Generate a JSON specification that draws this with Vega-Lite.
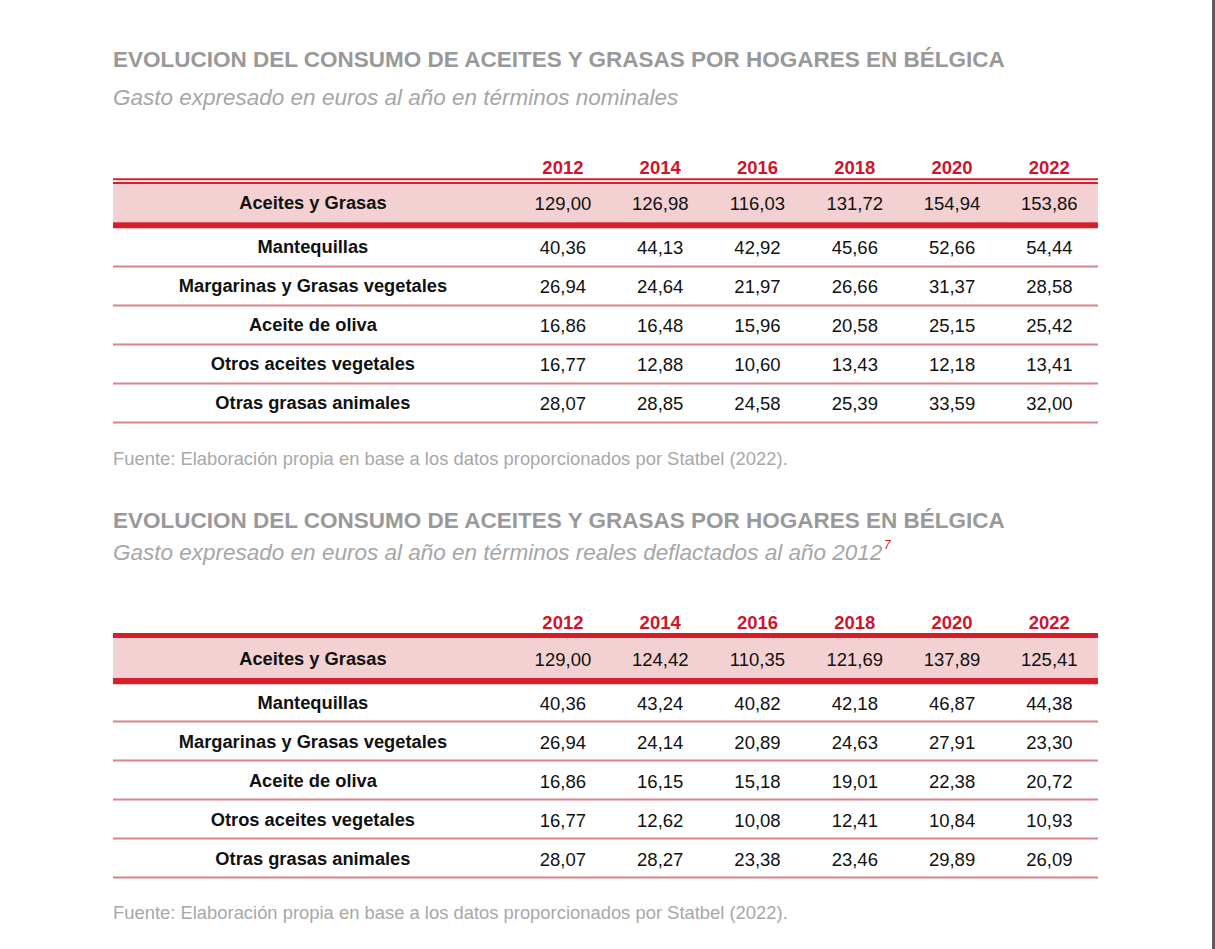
{
  "$schema": "https://vega.github.io/schema/vega-lite/v6.json",
  "background": "white",
  "padding": 0,
  "autosize": {"type": "pad"},
  "config": {
    "view": {"stroke": null},
    "font": "Liberation Sans",
    "axis": {"disable": true},
    "concat": {"spacing": 0},
    "locale": {"number": {"decimal": ",", "thousands": ".", "grouping": [3], "currency": ["", " €"]}}
  },
  "datasets": {
    "consumo": [
      {"tabla": "nominal", "orden": 0, "categoria": "Aceites y Grasas", "anio": 2012, "valor": 129.00},
      {"tabla": "nominal", "orden": 0, "categoria": "Aceites y Grasas", "anio": 2014, "valor": 126.98},
      {"tabla": "nominal", "orden": 0, "categoria": "Aceites y Grasas", "anio": 2016, "valor": 116.03},
      {"tabla": "nominal", "orden": 0, "categoria": "Aceites y Grasas", "anio": 2018, "valor": 131.72},
      {"tabla": "nominal", "orden": 0, "categoria": "Aceites y Grasas", "anio": 2020, "valor": 154.94},
      {"tabla": "nominal", "orden": 0, "categoria": "Aceites y Grasas", "anio": 2022, "valor": 153.86},
      {"tabla": "nominal", "orden": 1, "categoria": "Mantequillas", "anio": 2012, "valor": 40.36},
      {"tabla": "nominal", "orden": 1, "categoria": "Mantequillas", "anio": 2014, "valor": 44.13},
      {"tabla": "nominal", "orden": 1, "categoria": "Mantequillas", "anio": 2016, "valor": 42.92},
      {"tabla": "nominal", "orden": 1, "categoria": "Mantequillas", "anio": 2018, "valor": 45.66},
      {"tabla": "nominal", "orden": 1, "categoria": "Mantequillas", "anio": 2020, "valor": 52.66},
      {"tabla": "nominal", "orden": 1, "categoria": "Mantequillas", "anio": 2022, "valor": 54.44},
      {"tabla": "nominal", "orden": 2, "categoria": "Margarinas y Grasas vegetales", "anio": 2012, "valor": 26.94},
      {"tabla": "nominal", "orden": 2, "categoria": "Margarinas y Grasas vegetales", "anio": 2014, "valor": 24.64},
      {"tabla": "nominal", "orden": 2, "categoria": "Margarinas y Grasas vegetales", "anio": 2016, "valor": 21.97},
      {"tabla": "nominal", "orden": 2, "categoria": "Margarinas y Grasas vegetales", "anio": 2018, "valor": 26.66},
      {"tabla": "nominal", "orden": 2, "categoria": "Margarinas y Grasas vegetales", "anio": 2020, "valor": 31.37},
      {"tabla": "nominal", "orden": 2, "categoria": "Margarinas y Grasas vegetales", "anio": 2022, "valor": 28.58},
      {"tabla": "nominal", "orden": 3, "categoria": "Aceite de oliva", "anio": 2012, "valor": 16.86},
      {"tabla": "nominal", "orden": 3, "categoria": "Aceite de oliva", "anio": 2014, "valor": 16.48},
      {"tabla": "nominal", "orden": 3, "categoria": "Aceite de oliva", "anio": 2016, "valor": 15.96},
      {"tabla": "nominal", "orden": 3, "categoria": "Aceite de oliva", "anio": 2018, "valor": 20.58},
      {"tabla": "nominal", "orden": 3, "categoria": "Aceite de oliva", "anio": 2020, "valor": 25.15},
      {"tabla": "nominal", "orden": 3, "categoria": "Aceite de oliva", "anio": 2022, "valor": 25.42},
      {"tabla": "nominal", "orden": 4, "categoria": "Otros aceites vegetales", "anio": 2012, "valor": 16.77},
      {"tabla": "nominal", "orden": 4, "categoria": "Otros aceites vegetales", "anio": 2014, "valor": 12.88},
      {"tabla": "nominal", "orden": 4, "categoria": "Otros aceites vegetales", "anio": 2016, "valor": 10.60},
      {"tabla": "nominal", "orden": 4, "categoria": "Otros aceites vegetales", "anio": 2018, "valor": 13.43},
      {"tabla": "nominal", "orden": 4, "categoria": "Otros aceites vegetales", "anio": 2020, "valor": 12.18},
      {"tabla": "nominal", "orden": 4, "categoria": "Otros aceites vegetales", "anio": 2022, "valor": 13.41},
      {"tabla": "nominal", "orden": 5, "categoria": "Otras grasas animales", "anio": 2012, "valor": 28.07},
      {"tabla": "nominal", "orden": 5, "categoria": "Otras grasas animales", "anio": 2014, "valor": 28.85},
      {"tabla": "nominal", "orden": 5, "categoria": "Otras grasas animales", "anio": 2016, "valor": 24.58},
      {"tabla": "nominal", "orden": 5, "categoria": "Otras grasas animales", "anio": 2018, "valor": 25.39},
      {"tabla": "nominal", "orden": 5, "categoria": "Otras grasas animales", "anio": 2020, "valor": 33.59},
      {"tabla": "nominal", "orden": 5, "categoria": "Otras grasas animales", "anio": 2022, "valor": 32.00},
      {"tabla": "real", "orden": 0, "categoria": "Aceites y Grasas", "anio": 2012, "valor": 129.00},
      {"tabla": "real", "orden": 0, "categoria": "Aceites y Grasas", "anio": 2014, "valor": 124.42},
      {"tabla": "real", "orden": 0, "categoria": "Aceites y Grasas", "anio": 2016, "valor": 110.35},
      {"tabla": "real", "orden": 0, "categoria": "Aceites y Grasas", "anio": 2018, "valor": 121.69},
      {"tabla": "real", "orden": 0, "categoria": "Aceites y Grasas", "anio": 2020, "valor": 137.89},
      {"tabla": "real", "orden": 0, "categoria": "Aceites y Grasas", "anio": 2022, "valor": 125.41},
      {"tabla": "real", "orden": 1, "categoria": "Mantequillas", "anio": 2012, "valor": 40.36},
      {"tabla": "real", "orden": 1, "categoria": "Mantequillas", "anio": 2014, "valor": 43.24},
      {"tabla": "real", "orden": 1, "categoria": "Mantequillas", "anio": 2016, "valor": 40.82},
      {"tabla": "real", "orden": 1, "categoria": "Mantequillas", "anio": 2018, "valor": 42.18},
      {"tabla": "real", "orden": 1, "categoria": "Mantequillas", "anio": 2020, "valor": 46.87},
      {"tabla": "real", "orden": 1, "categoria": "Mantequillas", "anio": 2022, "valor": 44.38},
      {"tabla": "real", "orden": 2, "categoria": "Margarinas y Grasas vegetales", "anio": 2012, "valor": 26.94},
      {"tabla": "real", "orden": 2, "categoria": "Margarinas y Grasas vegetales", "anio": 2014, "valor": 24.14},
      {"tabla": "real", "orden": 2, "categoria": "Margarinas y Grasas vegetales", "anio": 2016, "valor": 20.89},
      {"tabla": "real", "orden": 2, "categoria": "Margarinas y Grasas vegetales", "anio": 2018, "valor": 24.63},
      {"tabla": "real", "orden": 2, "categoria": "Margarinas y Grasas vegetales", "anio": 2020, "valor": 27.91},
      {"tabla": "real", "orden": 2, "categoria": "Margarinas y Grasas vegetales", "anio": 2022, "valor": 23.30},
      {"tabla": "real", "orden": 3, "categoria": "Aceite de oliva", "anio": 2012, "valor": 16.86},
      {"tabla": "real", "orden": 3, "categoria": "Aceite de oliva", "anio": 2014, "valor": 16.15},
      {"tabla": "real", "orden": 3, "categoria": "Aceite de oliva", "anio": 2016, "valor": 15.18},
      {"tabla": "real", "orden": 3, "categoria": "Aceite de oliva", "anio": 2018, "valor": 19.01},
      {"tabla": "real", "orden": 3, "categoria": "Aceite de oliva", "anio": 2020, "valor": 22.38},
      {"tabla": "real", "orden": 3, "categoria": "Aceite de oliva", "anio": 2022, "valor": 20.72},
      {"tabla": "real", "orden": 4, "categoria": "Otros aceites vegetales", "anio": 2012, "valor": 16.77},
      {"tabla": "real", "orden": 4, "categoria": "Otros aceites vegetales", "anio": 2014, "valor": 12.62},
      {"tabla": "real", "orden": 4, "categoria": "Otros aceites vegetales", "anio": 2016, "valor": 10.08},
      {"tabla": "real", "orden": 4, "categoria": "Otros aceites vegetales", "anio": 2018, "valor": 12.41},
      {"tabla": "real", "orden": 4, "categoria": "Otros aceites vegetales", "anio": 2020, "valor": 10.84},
      {"tabla": "real", "orden": 4, "categoria": "Otros aceites vegetales", "anio": 2022, "valor": 10.93},
      {"tabla": "real", "orden": 5, "categoria": "Otras grasas animales", "anio": 2012, "valor": 28.07},
      {"tabla": "real", "orden": 5, "categoria": "Otras grasas animales", "anio": 2014, "valor": 28.27},
      {"tabla": "real", "orden": 5, "categoria": "Otras grasas animales", "anio": 2016, "valor": 23.38},
      {"tabla": "real", "orden": 5, "categoria": "Otras grasas animales", "anio": 2018, "valor": 23.46},
      {"tabla": "real", "orden": 5, "categoria": "Otras grasas animales", "anio": 2020, "valor": 29.89},
      {"tabla": "real", "orden": 5, "categoria": "Otras grasas animales", "anio": 2022, "valor": 26.09}
    ]
  },
  "vconcat": [
    {
      "width": 1215,
      "height": 490,
      "data": {"name": "consumo"},
      "transform": [{"filter": "datum.tabla === 'nominal'"}],
      "layer": [
        {
          "transform": [{"filter": "datum.orden === 0 && datum.anio === 2012"}],
          "mark": {"type": "rect", "color": "#f3d0d2"},
          "encoding": {
            "x": {"datum": 2002.75, "type": "quantitative", "scale": {"domain": [2000.427, 2025.406], "nice": false, "zero": false}},
            "x2": {"datum": 2023},
            "y": {"datum": -0.615, "type": "quantitative", "scale": {"domain": [-5.3333, 7.2308], "nice": false, "zero": false, "reverse": true}},
            "y2": {"datum": 0.36}
          }
        },
        {
          "transform": [{"filter": "datum.orden === 0 && datum.anio === 2012"}],
          "mark": {"type": "rule", "color": "#d51f2d", "strokeWidth": 2},
          "encoding": {"x": {"datum": 2002.75, "type": "quantitative"}, "x2": {"datum": 2023}, "y": {"datum": -0.74, "type": "quantitative"}}
        },
        {
          "transform": [{"filter": "datum.orden === 0 && datum.anio === 2012"}],
          "mark": {"type": "rule", "color": "#d51f2d", "strokeWidth": 2},
          "encoding": {"x": {"datum": 2002.75, "type": "quantitative"}, "x2": {"datum": 2023}, "y": {"datum": -0.64, "type": "quantitative"}}
        },
        {
          "transform": [{"filter": "datum.orden === 0 && datum.anio === 2012"}],
          "mark": {"type": "rule", "color": "#d51f2d", "strokeWidth": 6},
          "encoding": {"x": {"datum": 2002.75, "type": "quantitative"}, "x2": {"datum": 2023}, "y": {"datum": 0.44, "type": "quantitative"}}
        },
        {
          "transform": [{"filter": "datum.orden >= 1 && datum.anio === 2012"}],
          "mark": {"type": "rule", "color": "#d9848a", "strokeWidth": 1.8, "yOffset": 19.5},
          "encoding": {"x": {"datum": 2002.75, "type": "quantitative"}, "x2": {"datum": 2023}, "y": {"field": "orden", "type": "quantitative"}}
        },
        {
          "transform": [{"filter": "datum.orden === 0 && datum.anio === 2012"}],
          "mark": {"type": "text", "fontSize": 22.5, "fontWeight": "bold", "color": "#999999", "align": "left", "baseline": "middle", "text": "EVOLUCION DEL CONSUMO DE ACEITES Y GRASAS POR HOGARES EN BÉLGICA"},
          "encoding": {"x": {"datum": 2002.75, "type": "quantitative"}, "y": {"datum": -3.795, "type": "quantitative"}}
        },
        {
          "transform": [{"filter": "datum.orden === 0 && datum.anio === 2012"}],
          "mark": {"type": "text", "fontSize": 22.5, "fontStyle": "italic", "color": "#a6a6a6", "align": "left", "baseline": "middle", "text": "Gasto expresado en euros al año en términos nominales"},
          "encoding": {"x": {"datum": 2002.75, "type": "quantitative"}, "y": {"datum": -2.821, "type": "quantitative"}}
        },
        {
          "transform": [{"filter": "datum.orden === 0"}],
          "mark": {"type": "text", "fontSize": 18.5, "fontWeight": "bold", "color": "#d0142c", "align": "center", "baseline": "middle", "dy": -1},
          "encoding": {"x": {"field": "anio", "type": "quantitative"}, "y": {"datum": -1, "type": "quantitative"}, "text": {"field": "anio", "type": "nominal"}}
        },
        {
          "transform": [{"filter": "datum.orden === 0 && datum.anio === 2012"}],
          "mark": {"type": "text", "fontSize": 18.3, "fontWeight": "bold", "color": "#111111", "align": "center", "baseline": "middle", "dy": -3.5},
          "encoding": {"x": {"datum": 2006.86, "type": "quantitative"}, "y": {"field": "orden", "type": "quantitative"}, "text": {"field": "categoria", "type": "nominal"}}
        },
        {
          "transform": [{"filter": "datum.orden >= 1 && datum.anio === 2012"}],
          "mark": {"type": "text", "fontSize": 18.3, "fontWeight": "bold", "color": "#111111", "align": "center", "baseline": "middle", "dy": 1.5},
          "encoding": {"x": {"datum": 2006.86, "type": "quantitative"}, "y": {"field": "orden", "type": "quantitative"}, "text": {"field": "categoria", "type": "nominal"}}
        },
        {
          "transform": [{"filter": "datum.orden === 0"}],
          "mark": {"type": "text", "fontSize": 18.5, "color": "#111111", "align": "center", "baseline": "middle", "dy": -3.5},
          "encoding": {"x": {"field": "anio", "type": "quantitative"}, "y": {"field": "orden", "type": "quantitative"}, "text": {"field": "valor", "type": "quantitative", "format": ".2f"}}
        },
        {
          "transform": [{"filter": "datum.orden >= 1"}],
          "mark": {"type": "text", "fontSize": 18.5, "color": "#111111", "align": "center", "baseline": "middle", "dy": 1.5},
          "encoding": {"x": {"field": "anio", "type": "quantitative"}, "y": {"field": "orden", "type": "quantitative"}, "text": {"field": "valor", "type": "quantitative", "format": ".2f"}}
        },
        {
          "transform": [{"filter": "datum.orden === 0 && datum.anio === 2012"}],
          "mark": {"type": "text", "fontSize": 18.4, "color": "#a8a8a8", "align": "left", "baseline": "middle", "text": "Fuente: Elaboración propia en base a los datos proporcionados por Statbel (2022)."},
          "encoding": {"x": {"datum": 2002.75, "type": "quantitative"}, "y": {"datum": 6.436, "type": "quantitative"}}
        },
        {
          "transform": [{"filter": "datum.orden === 0 && datum.anio === 2012"}],
          "mark": {"type": "rect", "color": "#5a5a5a"},
          "encoding": {"x": {"datum": 2025.345, "type": "quantitative"}, "x2": {"datum": 2025.406}, "y": {"datum": -5.3333, "type": "quantitative"}, "y2": {"datum": 7.2308}}
        }
      ]
    },
    {
      "width": 1215,
      "height": 459,
      "data": {"name": "consumo"},
      "transform": [{"filter": "datum.tabla === 'real'"}],
      "layer": [
        {
          "transform": [{"filter": "datum.orden === 0 && datum.anio === 2012"}],
          "mark": {"type": "rect", "color": "#f3d0d2"},
          "encoding": {
            "x": {"datum": 2002.75, "type": "quantitative", "scale": {"domain": [2000.427, 2025.406], "nice": false, "zero": false}},
            "x2": {"datum": 2023},
            "y": {"datum": -0.641, "type": "quantitative", "scale": {"domain": [-4.4359, 7.3333], "nice": false, "zero": false, "reverse": true}},
            "y2": {"datum": 0.36}
          }
        },
        {
          "transform": [{"filter": "datum.orden === 0 && datum.anio === 2012"}],
          "mark": {"type": "rule", "color": "#d51f2d", "strokeWidth": 5},
          "encoding": {"x": {"datum": 2002.75, "type": "quantitative"}, "x2": {"datum": 2023}, "y": {"datum": -0.705, "type": "quantitative"}}
        },
        {
          "transform": [{"filter": "datum.orden === 0 && datum.anio === 2012"}],
          "mark": {"type": "rule", "color": "#d51f2d", "strokeWidth": 6.5},
          "encoding": {"x": {"datum": 2002.75, "type": "quantitative"}, "x2": {"datum": 2023}, "y": {"datum": 0.46, "type": "quantitative"}}
        },
        {
          "transform": [{"filter": "datum.orden >= 1 && datum.anio === 2012"}],
          "mark": {"type": "rule", "color": "#d9848a", "strokeWidth": 1.8, "yOffset": 19.5},
          "encoding": {"x": {"datum": 2002.75, "type": "quantitative"}, "x2": {"datum": 2023}, "y": {"field": "orden", "type": "quantitative"}}
        },
        {
          "transform": [{"filter": "datum.orden === 0 && datum.anio === 2012"}],
          "mark": {"type": "text", "fontSize": 22.5, "fontWeight": "bold", "color": "#999999", "align": "left", "baseline": "middle", "text": "EVOLUCION DEL CONSUMO DE ACEITES Y GRASAS POR HOGARES EN BÉLGICA"},
          "encoding": {"x": {"datum": 2002.75, "type": "quantitative"}, "y": {"datum": -3.641, "type": "quantitative"}}
        },
        {
          "transform": [{"filter": "datum.orden === 0 && datum.anio === 2012"}],
          "mark": {"type": "text", "fontSize": 22.5, "fontStyle": "italic", "color": "#a6a6a6", "align": "left", "baseline": "middle", "text": "Gasto expresado en euros al año en términos reales deflactados al año 2012"},
          "encoding": {"x": {"datum": 2002.75, "type": "quantitative"}, "y": {"datum": -2.821, "type": "quantitative"}}
        },
        {
          "transform": [{"filter": "datum.orden === 0 && datum.anio === 2012"}],
          "mark": {"type": "text", "fontSize": 12, "fontStyle": "italic", "color": "#d0142c", "align": "left", "baseline": "middle", "text": "7"},
          "encoding": {"x": {"datum": 2018.6, "type": "quantitative"}, "y": {"datum": -3.03, "type": "quantitative"}}
        },
        {
          "transform": [{"filter": "datum.orden === 0"}],
          "mark": {"type": "text", "fontSize": 18.5, "fontWeight": "bold", "color": "#d0142c", "align": "center", "baseline": "middle", "dy": -1},
          "encoding": {"x": {"field": "anio", "type": "quantitative"}, "y": {"datum": -1, "type": "quantitative"}, "text": {"field": "anio", "type": "nominal"}}
        },
        {
          "transform": [{"filter": "datum.orden === 0 && datum.anio === 2012"}],
          "mark": {"type": "text", "fontSize": 18.3, "fontWeight": "bold", "color": "#111111", "align": "center", "baseline": "middle", "dy": -3.5},
          "encoding": {"x": {"datum": 2006.86, "type": "quantitative"}, "y": {"field": "orden", "type": "quantitative"}, "text": {"field": "categoria", "type": "nominal"}}
        },
        {
          "transform": [{"filter": "datum.orden >= 1 && datum.anio === 2012"}],
          "mark": {"type": "text", "fontSize": 18.3, "fontWeight": "bold", "color": "#111111", "align": "center", "baseline": "middle", "dy": 1.5},
          "encoding": {"x": {"datum": 2006.86, "type": "quantitative"}, "y": {"field": "orden", "type": "quantitative"}, "text": {"field": "categoria", "type": "nominal"}}
        },
        {
          "transform": [{"filter": "datum.orden === 0"}],
          "mark": {"type": "text", "fontSize": 18.5, "color": "#111111", "align": "center", "baseline": "middle", "dy": -3.5},
          "encoding": {"x": {"field": "anio", "type": "quantitative"}, "y": {"field": "orden", "type": "quantitative"}, "text": {"field": "valor", "type": "quantitative", "format": ".2f"}}
        },
        {
          "transform": [{"filter": "datum.orden >= 1"}],
          "mark": {"type": "text", "fontSize": 18.5, "color": "#111111", "align": "center", "baseline": "middle", "dy": 1.5},
          "encoding": {"x": {"field": "anio", "type": "quantitative"}, "y": {"field": "orden", "type": "quantitative"}, "text": {"field": "valor", "type": "quantitative", "format": ".2f"}}
        },
        {
          "transform": [{"filter": "datum.orden === 0 && datum.anio === 2012"}],
          "mark": {"type": "text", "fontSize": 18.4, "color": "#a8a8a8", "align": "left", "baseline": "middle", "text": "Fuente: Elaboración propia en base a los datos proporcionados por Statbel (2022)."},
          "encoding": {"x": {"datum": 2002.75, "type": "quantitative"}, "y": {"datum": 6.41, "type": "quantitative"}}
        },
        {
          "transform": [{"filter": "datum.orden === 0 && datum.anio === 2012"}],
          "mark": {"type": "rect", "color": "#5a5a5a"},
          "encoding": {"x": {"datum": 2025.345, "type": "quantitative"}, "x2": {"datum": 2025.406}, "y": {"datum": -4.4359, "type": "quantitative"}, "y2": {"datum": 7.3333}}
        }
      ]
    }
  ]
}
